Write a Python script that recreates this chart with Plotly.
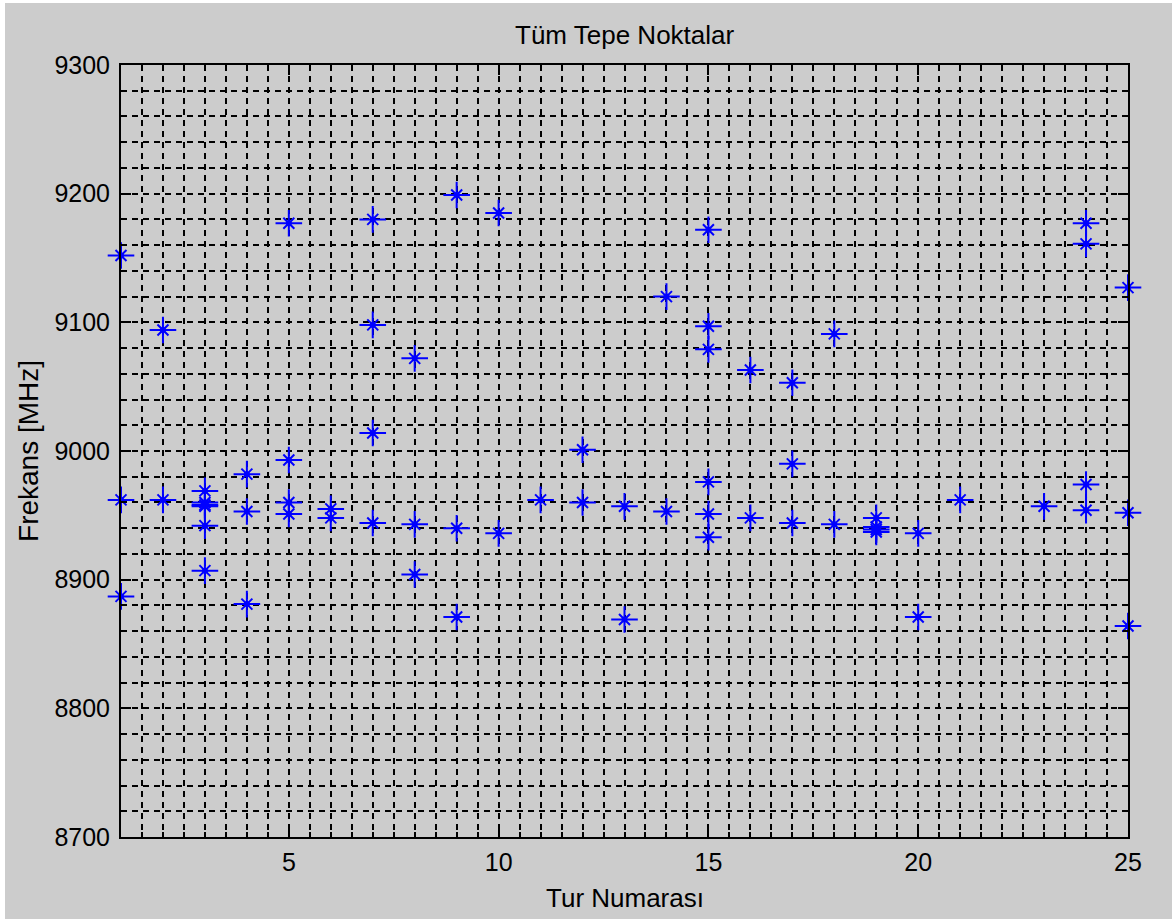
import plotly.graph_objects as go

# Peak frequencies found on each run (Tur) in MHz
tur = [
    1, 1, 1,
    2, 2,
    3, 3, 3, 3, 3, 3,
    4, 4, 4,
    5, 5, 5, 5,
    6, 6,
    7, 7, 7, 7,
    8, 8, 8,
    9, 9, 9,
    10, 10,
    11,
    12, 12,
    13, 13,
    14, 14,
    15, 15, 15, 15, 15, 15,
    16, 16,
    17, 17, 17,
    18, 18,
    19, 19, 19, 19,
    20, 20,
    21,
    23,
    24, 24, 24, 24,
    25, 25, 25,
]
frekans = [
    9152, 8962, 8887,
    9094, 8962,
    8969, 8960, 8958, 8957, 8942, 8907,
    8982, 8953, 8881,
    9177, 8993, 8960, 8951,
    8955, 8948,
    9180, 9098, 9014, 8944,
    9072, 8943, 8904,
    9199, 8940, 8871,
    9185, 8936,
    8962,
    9001, 8960,
    8957, 8869,
    9120, 8953,
    9172, 9097, 9079, 8976, 8951, 8933,
    9063, 8948,
    9053, 8990, 8944,
    9091, 8943,
    8948, 8941, 8939, 8937,
    8936, 8871,
    8962,
    8957,
    9177, 9161, 8974, 8954,
    9127, 8952, 8864,
]

x_ticks = [5, 10, 15, 20, 25]
y_ticks = [8700, 8800, 8900, 9000, 9100, 9200, 9300]

FONT = "Liberation Sans Narrow, Arial Narrow, Liberation Sans, Arial, sans-serif"
GRID = "6px,5px"
GRID_W = 1.8
BLUE = "#0000ff"

fig = go.Figure()
# '*' marker: long plus arms with shorter diagonal arms and a dot in the middle
for symbol, size in (("cross-thin-open", 19), ("x-thin-open", 11), ("circle", 6)):
    fig.add_trace(go.Scatter(
        x=tur, y=frekans, mode="markers",
        marker=dict(symbol=symbol, size=size, color=BLUE,
                    line=dict(color=BLUE, width=2 if symbol != "circle" else 0)),
        cliponaxis=False, showlegend=False, hoverinfo="x+y",
    ))

axis_common = dict(
    showline=True, linecolor="black", linewidth=2, mirror="ticks",
    ticks="inside", ticklen=10, tickwidth=1.5, tickcolor="black",
    zeroline=False,
    tickfont=dict(family=FONT, size=25, color="black"),
)

fig.update_xaxes(
    range=[1, 25], tickmode="array", tickvals=x_ticks,
    ticktext=[str(v) for v in x_ticks],
    showgrid=False,
    minor=dict(dtick=0.5, tick0=0, showgrid=True, gridcolor="black",
               gridwidth=GRID_W, griddash=GRID, ticks="inside", ticklen=5,
               tickcolor="black", tickwidth=1.5),
    ticklabelstandoff=2,
    **axis_common,
)
fig.update_yaxes(
    range=[8700, 9300], tickmode="array", tickvals=y_ticks,
    ticktext=[str(v) for v in y_ticks],
    showgrid=True, gridcolor="black", gridwidth=GRID_W, griddash=GRID,
    minor=dict(dtick=20, tick0=8700, showgrid=True, gridcolor="black",
               gridwidth=GRID_W, griddash=GRID, ticks="inside", ticklen=5,
               tickcolor="black", tickwidth=1.5),
    ticklabelstandoff=4,
    **axis_common,
)

fig.update_layout(
    width=1172, height=921,
    margin=dict(l=121, r=44, t=65, b=84),
    paper_bgcolor="white", plot_bgcolor="white",
    shapes=[dict(type="rect", xref="paper", yref="paper",
                 x0=-0.1152, x1=1.06, y0=-0.1062, y1=1.0803,
                 fillcolor="#cccccc", line=dict(width=0), layer="below")],
    annotations=[
        dict(text="Tüm Tepe Noktalar", xref="paper", yref="paper",
             x=0.5, y=1.039, showarrow=False, xanchor="center", yanchor="middle",
             font=dict(family=FONT, size=26, color="black")),
        dict(text="Tur Numarası", xref="paper", yref="paper",
             x=0.5, y=-0.079, showarrow=False, xanchor="center", yanchor="middle",
             font=dict(family=FONT, size=26, color="black")),
        dict(text="Frekans [MHz]", xref="paper", yref="paper",
             x=-0.0924, y=0.5, showarrow=False, xanchor="center", yanchor="middle",
             textangle=-90,
             font=dict(family=FONT, size=28, color="black")),
    ],
)

fig.write_html("out.html")
